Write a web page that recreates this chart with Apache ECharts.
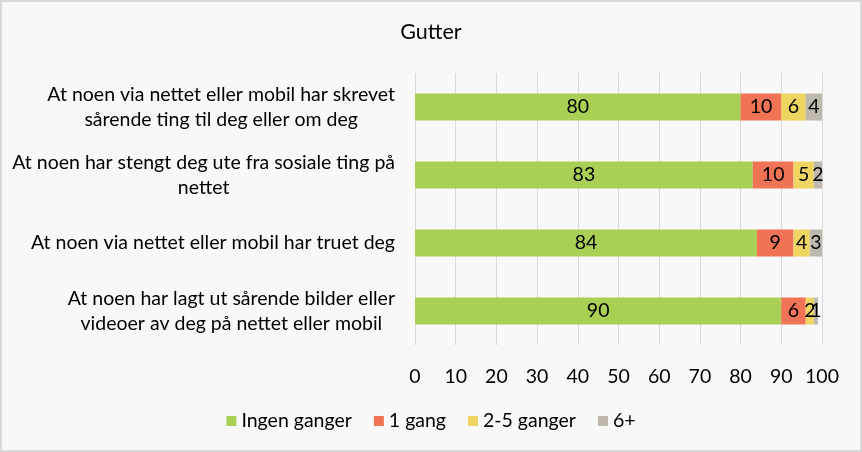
<!DOCTYPE html>
<html><head><meta charset="utf-8">
<script src="https://cdn.jsdelivr.net/npm/echarts@6/dist/echarts.min.js"></script>
<style>
html,body{margin:0;padding:0;background:#fff;}
#c{width:858px;height:448px;border:2px solid #d9d9d9;background:#f8f8f8;}
</style></head><body>
<div id="c"></div>
<script>
const categories = [
  "At noen via nettet eller mobil har skrevet\nsårende ting til deg eller om deg",
  "At noen har stengt deg ute fra sosiale ting på\nnettet",
  "At noen via nettet eller mobil har truet deg",
  "At noen har lagt ut sårende bilder eller\nvideoer av deg på nettet eller mobil"
];
const seriesNames = ["Ingen ganger", "1 gang", "2-5 ganger", "6+"];
const ingenGanger = [80, 83, 84, 90];
const enGang = [10, 10, 9, 6];
const toFemGanger = [6, 5, 4, 2];
const seksPluss = [4, 2, 3, 1];
const xTicks = [0, 10, 20, 30, 40, 50, 60, 70, 80, 90, 100];
const colors = ["#A9CF55", "#F07355", "#EED460", "#BEB8AE"];
const values = [ingenGanger, enGang, toFemGanger, seksPluss];
const font = "Lato";
const fs = 19.5;

const chart = echarts.init(document.getElementById('c'));
chart.setOption({
  backgroundColor: '#f8f8f8',
  textStyle: {fontFamily: font},
  title: {text: 'Gutter', left: 'center', top: 14,
    textStyle: {fontFamily: font, fontSize: 21.5, fontWeight: 'normal', color: '#000'}},
  legend: {bottom: 14, left: 'center', itemWidth: 10, itemHeight: 10, itemGap: 22,
    icon: 'rect',
    textStyle: {fontFamily: font, fontSize: fs, color: '#000'},
    data: seriesNames},
  grid: {left: 413, right: 38, top: 71, bottom: 105, containLabel: false},
  xAxis: {type: 'value', min: 0, max: 100, interval: 10,
    axisLine: {show: false}, axisTick: {show: false},
    splitLine: {lineStyle: {color: '#d9d9d9'}},
    axisLabel: {fontFamily: font, fontSize: fs, color: '#000', margin: 22,
      formatter: v => xTicks.includes(v) ? String(v) : ''}},
  yAxis: {type: 'category', inverse: true, data: categories,
    axisLine: {show: false}, axisTick: {show: false},
    axisLabel: {margin: 20, align: 'right', lineHeight: 25,
      formatter: v => v.split('\n').map(l => '{c|' + l + '}').join('\n'),
      rich: {c: {align: 'center', fontFamily: font, fontSize: fs, color: '#000', lineHeight: 25}}}},
  series: seriesNames.map((n, i) => ({
    name: n, type: 'bar', stack: 'a', barWidth: 27,
    itemStyle: {color: colors[i]},
    label: {show: true, position: 'inside', color: '#000', fontFamily: font, fontSize: fs},
    data: values[i]
  }))
});
</script></body></html>
